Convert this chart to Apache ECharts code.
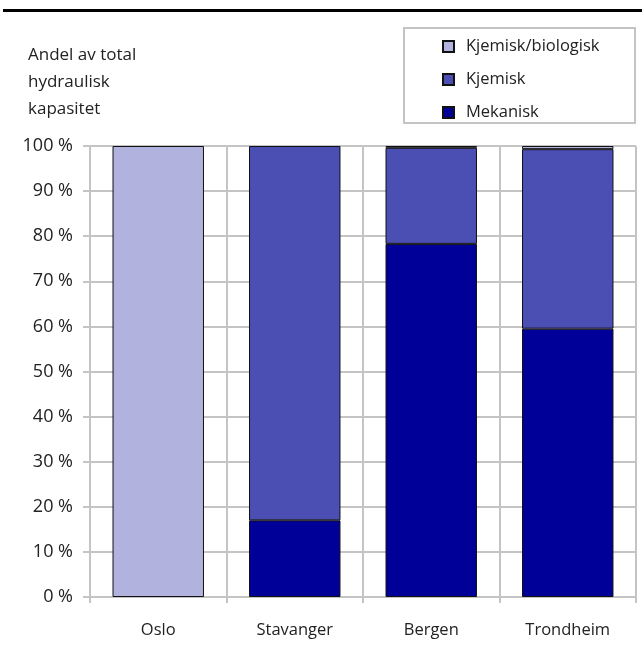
<!DOCTYPE html>
<html>
<head>
<meta charset="utf-8">
<script src="https://cdn.jsdelivr.net/npm/echarts@6/dist/echarts.min.js"></script>
<style>
  html, body { margin: 0; padding: 0; background: #fff; }
  #chart { width: 642px; height: 648px; }
</style>
</head>
<body>
<div id="chart"></div>
<script>
// Share of total hydraulic capacity by treatment type, per city (percent)
const cities = ['Oslo', 'Stavanger', 'Bergen', 'Trondheim'];
const mekanisk = [0, 17.0, 78.3, 59.5];
const kjemisk = [0, 83.0, 21.3, 39.8];
const kjemiskBiologisk = [100, 0, 0.4, 0.7];
const yTicks = [0, 10, 20, 30, 40, 50, 60, 70, 80, 90, 100];

const FONT = '"Open Sans", "Noto Sans", sans-serif';
const GRID_GREY = '#c4c4c4';

const chart = echarts.init(document.getElementById('chart'), null, { renderer: 'canvas' });

// zero shares are left out so no empty segment outline is drawn
function barSeries(name, data, color) {
  return {
    name: name,
    type: 'bar',
    stack: 'total',
    data: data.map(function (v) { return v === 0 ? '-' : v; }),
    barWidth: '67%',
    itemStyle: { color: color, borderColor: '#111', borderWidth: 1 },
    emphasis: { disabled: true }
  };
}

chart.setOption({
  animation: false,
  textStyle: { fontFamily: FONT },
  grid: { left: 90, right: 6, top: 146, bottom: 51, containLabel: false },
  graphic: [
    { type: 'rect', shape: { x: 3, y: 9, width: 639, height: 3 }, style: { fill: '#000' } },
    { type: 'rect', shape: { x: 404, y: 28, width: 231, height: 95 },
      style: { fill: '#fff', stroke: GRID_GREY, lineWidth: 2 } },
    { type: 'text', left: 28, top: 42,
      style: { text: 'Andel av total\nhydraulisk\nkapasitet', font: '17px ' + FONT,
               fill: '#222', lineHeight: 27 } }
  ],
  legend: {
    data: ['Kjemisk/biologisk', 'Kjemisk', 'Mekanisk'],
    orient: 'vertical',
    left: 437,
    top: 33,
    itemWidth: 11,
    itemHeight: 11,
    itemGap: 16,
    icon: 'rect',
    textStyle: { fontSize: 16.5, color: '#222', fontFamily: FONT, padding: [0, 0, 0, 7] },
    selectedMode: false
  },
  xAxis: {
    type: 'category',
    data: cities,
    axisLine: { show: true, lineStyle: { color: GRID_GREY, width: 2 } },
    axisTick: { show: true, alignWithLabel: false, length: 6, lineStyle: { color: GRID_GREY, width: 2 } },
    splitLine: { show: true, lineStyle: { color: GRID_GREY, width: 2 } },
    axisLabel: { color: '#222', fontSize: 16.5, margin: 25, fontFamily: FONT }
  },
  yAxis: {
    type: 'value',
    min: yTicks[0],
    max: yTicks[yTicks.length - 1],
    interval: 10,
    axisLine: { show: true, lineStyle: { color: GRID_GREY, width: 2 } },
    axisTick: { show: true, length: 7, lineStyle: { color: GRID_GREY, width: 2 } },
    splitLine: { show: true, lineStyle: { color: GRID_GREY, width: 2 } },
    axisLabel: { color: '#222', fontSize: 18, margin: 17, fontFamily: FONT,
                 formatter: function (v) { return v + ' %'; } }
  },
  series: [
    barSeries('Mekanisk', mekanisk, '#000099'),
    barSeries('Kjemisk', kjemisk, '#4b4eb3'),
    barSeries('Kjemisk/biologisk', kjemiskBiologisk, '#b2b2df')
  ]
});
</script>
</body>
</html>
